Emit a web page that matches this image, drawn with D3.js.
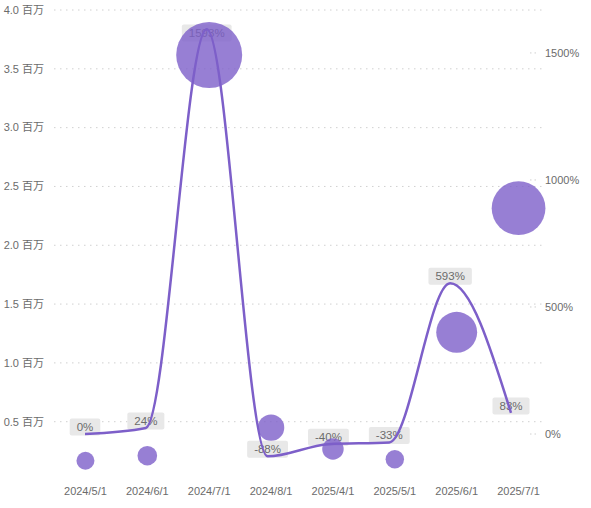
<!DOCTYPE html>
<html lang="zh">
<head>
    <meta charset="UTF-8">
    <title>Bubble + Line Combo</title>
    <script src="https://cdn.jsdelivr.net/npm/d3@7/dist/d3.min.js"></script>
    <style>
        body { margin: 0; background: #fff; }
        text { font-family: "Liberation Sans", "Noto Sans CJK SC", sans-serif; fill: #6b6b6b; }
    </style>
</head>
<body>
<svg id="main" width="591" height="508"></svg>
<script>
    const dates = ['2024/5/1', '2024/6/1', '2024/7/1', '2024/8/1',
        '2025/4/1', '2025/5/1', '2025/6/1', '2025/7/1'];
    // bubble values (left axis)
    const amounts = [168000, 211000, 3618000, 449000, 268000, 180000, 1260000, 2315000];
    // growth rate in % (right axis)
    const growth = [0, 24, 1593, -88, -40, -33, 593, 83];
    const leftTicks = [500000, 1000000, 1500000, 2000000, 2500000, 3000000, 3500000, 4000000];
    const rightTicks = [0, 500, 1000, 1500];

    const purple = '#7d5fc9';
    let svg = d3.select('svg#main');

    let xScale = d3.scaleBand().domain(dates).range([54.5, 549.5]);
    let xLine = d3.scalePoint().domain(dates).range([85, 511]);
    let yLeft = d3.scaleLinear().domain([0, 4000000]).range([480.5, 10]);
    let yRight = d3.scaleLinear().domain([-183, 1669]).range([480.5, 10]);
    let rScale = d3.scaleSqrt().domain([d3.min(amounts), d3.max(amounts)]).range([9, 33]);

    // left grid + labels
    let grid = svg.append('g');
    grid.selectAll('line').data(leftTicks).enter().append('line')
        .attr('x1', 54).attr('x2', 546)
        .attr('y1', d => yLeft(d)).attr('y2', d => yLeft(d))
        .attr('stroke', '#d0d0d0').attr('stroke-dasharray', '1.5,4.5');
    grid.selectAll('text').data(leftTicks).enter().append('text')
        .attr('x', 44).attr('y', d => yLeft(d)).attr('dy', '0.35em')
        .attr('text-anchor', 'end').attr('font-size', 11)
        .text(d => d3.format('.1f')(d / 1e6) + ' 百万');

    // right axis
    let right = svg.append('g');
    right.selectAll('line').data(rightTicks).enter().append('line')
        .attr('x1', 530).attr('x2', 537)
        .attr('y1', d => yRight(d)).attr('y2', d => yRight(d))
        .attr('stroke', '#d0d0d0').attr('stroke-dasharray', '1.5,3');
    right.selectAll('text').data(rightTicks).enter().append('text')
        .attr('x', 545).attr('y', d => yRight(d)).attr('dy', '0.35em')
        .attr('font-size', 11)
        .text(d => d + '%');

    // x axis labels
    svg.append('g').selectAll('text').data(dates).enter().append('text')
        .attr('x', d => xScale(d) + xScale.bandwidth() / 2)
        .attr('y', 495)
        .attr('text-anchor', 'middle').attr('font-size', 11)
        .text(d => d);

    // data labels for the line
    let labels = svg.append('g').selectAll('g').data(growth).enter().append('g')
        .attr('transform', (d, i) => 'translate(' + xLine(dates[i]) + ',' + Math.max(yRight(d) - 7, 33) + ')');
    labels.append('text')
        .attr('text-anchor', 'middle').attr('dy', '0.35em').attr('font-size', 11.5)
        .text(d => d + '%');
    labels.each(function () {
        let g = d3.select(this);
        let w = g.select('text').node().getComputedTextLength() + 14;
        g.insert('rect', 'text')
            .attr('x', -w / 2).attr('y', -8.5)
            .attr('width', w).attr('height', 17)
            .attr('rx', 2).attr('fill', '#e8e8e8');
    });

    // line
    let line = d3.line()
        .x((d, i) => xLine(dates[i]))
        .y(d => yRight(d))
        .curve(d3.curveMonotoneX);
    svg.append('path').datum(growth)
        .attr('d', line)
        .attr('fill', 'none')
        .attr('stroke', purple)
        .attr('stroke-width', 2.5);

    // bubbles
    svg.append('g').selectAll('circle').data(amounts).enter().append('circle')
        .attr('cx', (d, i) => xScale(dates[i]) + xScale.bandwidth() / 2)
        .attr('cy', d => yLeft(d))
        .attr('r', d => rScale(d))
        .attr('fill', purple)
        .attr('fill-opacity', 0.8);
</script>
</body>
</html>
